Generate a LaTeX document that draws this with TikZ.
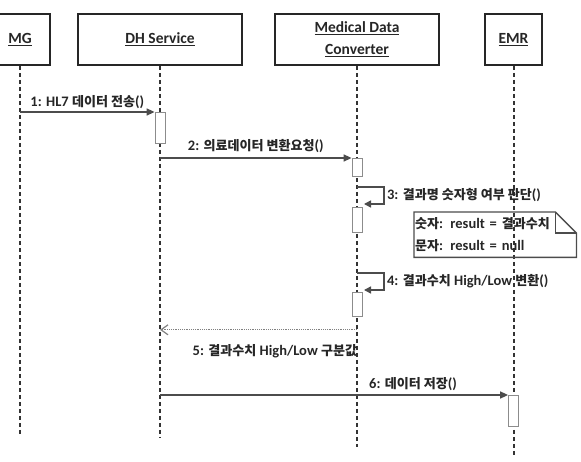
\documentclass[tikz,border=0pt]{standalone}
\usepackage{fontspec}
\setmainfont{Carlito}
\newfontfamily\krfont{Noto Sans CJK KR}[Scale=0.9]
\usetikzlibrary{arrows.meta}
\usetikzlibrary{calc}

\begin{document}
\begin{tikzpicture}[x=1pt, y=-1pt,
every node/.style={font=\fontsize{14.5}{16}\selectfont\bfseries, text=black!85},
object/.style={draw=black!85, line width=1.6pt, minimum height=51pt, align=center,
	font=\fontsize{15.5}{22}\selectfont\bfseries},
lifeline/.style={draw=black!80, line width=2pt, dash pattern=on 4pt off 3pt},
activation/.style={draw=black!45, fill=white, line width=0.8pt, minimum width=10pt, inner sep=0pt, anchor=north},
call/.style={draw=black!70, line width=1.5pt, -{Triangle[length=8pt,width=7pt]}},
selfcall/.style={draw=black!70, line width=1.5pt, -{Triangle[length=7pt,width=7pt]}},
reply/.style={draw=black!50, line width=1.2pt, densely dotted, -{Straight Barb[length=7pt,width=10pt]}}]
\useasboundingbox (0,0) rectangle (581,462);

% objects
\node[object, minimum width=60pt] (mg) at (20,39.5) {\underline{MG}};
\node[object, minimum width=164pt] (dh) at (160,39.5) {\underline{DH Service}};
\node[object, minimum width=164pt] (mdc) at (357,39.5) {\underline{Medical Data}\\\underline{Converter}};
\node[object, minimum width=57pt] (emr) at (513.5,39.5) {\underline{EMR}};

\foreach \obj/\len in {mg/370, dh/372, mdc/381, emr/389}
	\draw[lifeline] (\obj.south) -- ++(0,\len);

% activations
\node[activation, minimum height=31pt] (dhact) at (160,112) {};
\node[activation, minimum height=18pt] (mdcact1) at (357,158) {};
\node[activation, minimum height=25pt] (mdcact2) at (357,207) {};
\node[activation, minimum height=24pt] (mdcact3) at (357,292) {};
\node[activation, minimum height=31pt] (emract) at (513.5,395) {};

% messages
\draw[call] (mg |- dhact.north) -- (dhact.north west)
	node[midway, above=-1pt] {1: HL7 {\krfont 데이터 전송}()};
\draw[call] (dh |- mdcact1.north) -- (mdcact1.north west)
	node[midway, above=1pt] {2: {\krfont 의료데이터 변환요청}()};

\coordinate (turn3) at (384,187);
\draw[selfcall] (mdc |- turn3) -- (turn3) -- ++(0,17)
	node[midway, right=-1pt] {3: {\krfont 결과명 숫자형 여부 판단}()} -- ++(-20,0);

\node[text width=160pt, minimum height=45pt, align=left, inner sep=1pt, anchor=north west,
	font=\fontsize{14.5}{22}\selectfont\bfseries] (note) at (414,212)
	{{\krfont 숫자}: result = {\krfont 결과수치}\\{\krfont 문자}: result = null};
\draw[draw=black!70, line width=1.3pt] (note.north west) -- ($(note.north east)+(-21,0)$)
	-- ($(note.north east)+(0,21)$) -- (note.south east) -- (note.south west) -- cycle;
\draw[draw=black!70, line width=1.3pt] ($(note.north east)+(-21,0)$) -- ($(note.north east)+(-21,21)$)
	-- ($(note.north east)+(0,21)$);

\coordinate (turn4) at (384,273);
\draw[selfcall] (mdc |- turn4) -- (turn4) -- ++(0,17)
	node[midway, right=-1pt] {4: {\krfont 결과수치} High/Low {\krfont 변환}()} -- ++(-20,0);

\draw[reply] ($(mdcact3.south)+(0,13)$) coordinate (back5) -- (dh |- back5)
	node[at start, anchor=north east, xshift=4pt, yshift=-11pt] {5: {\krfont 결과수치} High/Low {\krfont 구분값}};

\draw[call] (dh |- emract.north) -- (emract.north west)
	node[pos=0.727, above=0pt] {6: {\krfont 데이터 저장}()};
\end{tikzpicture}
\end{document}
